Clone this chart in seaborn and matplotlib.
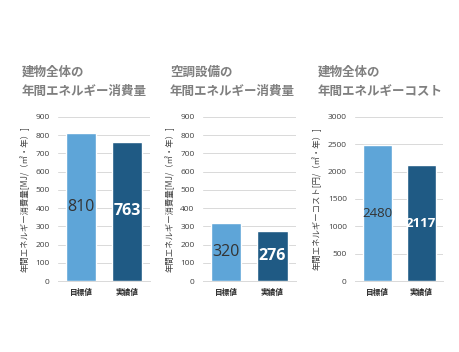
import matplotlib
matplotlib.use("Agg")
import matplotlib.pyplot as plt
import seaborn as sns
import pandas as pd

sns.set_theme(style="white")
plt.rcParams['font.family'] = ['Noto Sans CJK JP', 'DejaVu Sans']

categories = ["目標値", "実績値"]
energy_building = [810, 763]
energy_hvac = [320, 276]
cost_building = [2480, 2117]

titles = ["建物全体の\n年間エネルギー消費量", "空調設備の\n年間エネルギー消費量", "建物全体の\n年間エネルギーコスト"]
ylabels = ["年間エネルギー消費量[MJ/（㎡・年）]", "年間エネルギー消費量[MJ/（㎡・年）]", "年間エネルギーコスト[円/（㎡・年）]"]
yticks_list = [list(range(0, 901, 100)), list(range(0, 901, 100)), list(range(0, 3001, 500))]
series = [energy_building, energy_hvac, cost_building]

colors = ["#5ea5d8", "#1f5a84"]
num_font = ['Open Sans', 'DejaVu Sans']

fig = plt.figure(figsize=(4.6, 3.52), dpi=100)
positions = [(0.126, 0.2017, 0.200, 0.466),
             (0.441, 0.2017, 0.202, 0.466),
             (0.772, 0.2017, 0.191, 0.466)]
title_x = [22, 170, 318]
label_sizes = [11.5, 11.5, 9.5]

for i in range(3):
    ax = fig.add_axes(positions[i])
    df = pd.DataFrame({"cat": categories, "val": series[i]})
    sns.barplot(data=df, x="cat", y="val", hue="cat", palette=colors, width=0.66,
                legend=False, ax=ax, saturation=1)
    ax.set_ylim(0, yticks_list[i][-1])
    ax.set_yticks(yticks_list[i])
    ax.set_xlim(-0.5, 1.5)
    ax.grid(axis="y", color="#d9d9d9", linewidth=0.7)
    ax.set_axisbelow(True)
    for s in ["top", "right", "left"]:
        ax.spines[s].set_visible(False)
    ax.spines["bottom"].set_color("#d9d9d9")
    ax.spines["bottom"].set_linewidth(0.7)
    ax.tick_params(axis="y", labelsize=6, labelcolor="#404040", length=0, pad=6)
    ax.tick_params(axis="x", labelsize=5.5, labelcolor="#262626", length=0, pad=5)
    for t in ax.get_yticklabels():
        t.set_family(num_font)
    for t in ax.get_xticklabels():
        t.set_fontweight("bold")
    ax.set_xlabel("")
    ax.set_ylabel(ylabels[i], fontsize=6, color="#404040", labelpad=4)
    vals = series[i]
    for j, v in enumerate(vals):
        if j == 0:
            ax.text(j, v / 2, f"{v}", ha="center", va="center", fontsize=label_sizes[i],
                    color="#333333", family=num_font)
        else:
            ax.text(j, v / 2, f"{v}", ha="center", va="center", fontsize=label_sizes[i],
                    color="white", fontweight="bold", family=num_font)
    fig.text(title_x[i] / 460, 1 - 66 / 352, titles[i], ha="left", va="top",
             fontsize=9, color="#7f7f7f", fontweight="bold", linespacing=1.6)

fig.savefig("out.png", dpi=100)
